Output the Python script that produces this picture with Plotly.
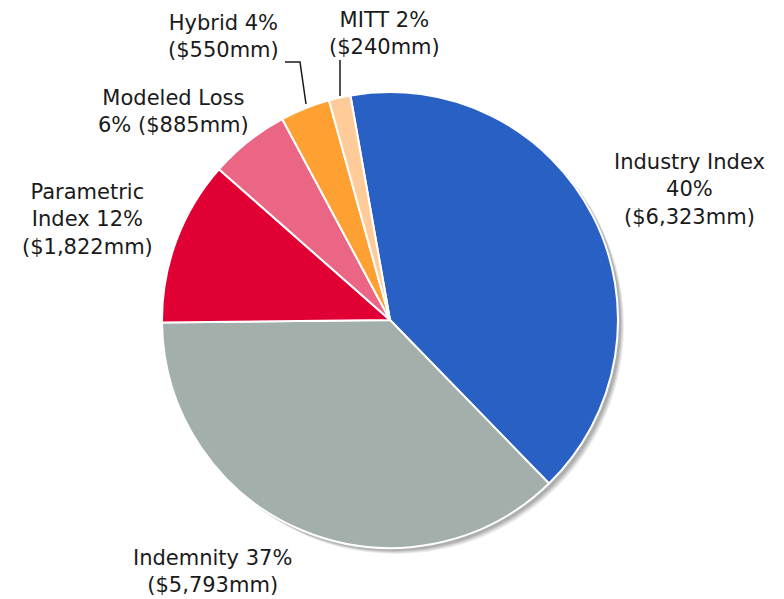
import plotly.graph_objects as go

# ---- data ----
categories = ["Industry Index", "Indemnity", "Parametric Index", "Modeled Loss", "Hybrid", "MITT"]
values_mm = [6323, 5793, 1822, 885, 550, 240]
pct_labels = ["40%", "37%", "12%", "6%", "4%", "2%"]
colors = ["#2960C4", "#A2AFAB", "#E00034", "#EB6684", "#FFA033", "#FFCC99"]

W, H = 784, 599
OFF = 8  # page body margin
cx, cy, R = 390, 320, 228  # pie centre / radius in screen pixels

def px(x):
    return (x - OFF) / W

def py(y):
    return 1 - (y - OFF) / H

fig = go.Figure()

fig.add_trace(go.Pie(
    labels=categories,
    values=values_mm,
    sort=False,
    direction="clockwise",
    rotation=-10,
    marker=dict(colors=colors, line=dict(color="white", width=2)),
    textinfo="none",
    hoverinfo="label+value+percent",
    showlegend=False,
    domain=dict(x=[px(cx - R), px(cx + R)], y=[py(cy + R), py(cy - R)]),
))

def money(v):
    return "(${:,}mm)".format(v)

label_text = {
    "Industry Index": f"{categories[0]}<br>{pct_labels[0]}<br>{money(values_mm[0])}",
    "Indemnity": f"{categories[1]} {pct_labels[1]}<br>{money(values_mm[1])}",
    "Parametric Index": f"Parametric<br>Index {pct_labels[2]}<br>{money(values_mm[2])}",
    "Modeled Loss": f"{categories[3]}<br>{pct_labels[3]} {money(values_mm[3])}",
    "Hybrid": f"{categories[4]} {pct_labels[4]}<br>{money(values_mm[4])}",
    "MITT": f"{categories[5]} {pct_labels[5]}<br>{money(values_mm[5])}",
}
label_pos = {
    "Industry Index": (689, 189),
    "Indemnity": (212, 571),
    "Parametric Index": (87, 220),
    "Modeled Loss": (173, 112),
    "Hybrid": (223, 36),
    "MITT": (384, 33),
}

annotations = []
for name in categories:
    x, y = label_pos[name]
    annotations.append(dict(
        x=px(x), y=py(y), xref="paper", yref="paper",
        text=label_text[name], showarrow=False,
        xanchor="center", yanchor="middle", align="center",
        font=dict(family="DejaVu Sans, Arial, sans-serif", size=21, color="#1a1a1a"),
    ))

shapes = []
# soft drop shadow behind pie
for off, op in [(6, 0.10), (5, 0.12), (4, 0.15), (3, 0.18)]:
    shapes.append(dict(
        type="circle", xref="paper", yref="paper", layer="below",
        x0=px(cx - R + off), x1=px(cx + R + off),
        y0=py(cy + R + off), y1=py(cy - R + off),
        fillcolor=f"rgba(80,80,80,{op})", line=dict(width=0),
    ))
# leader lines
shapes.append(dict(type="path", xref="paper", yref="paper",
                   path=f"M {px(285)} {py(62)} L {px(300)} {py(62)} L {px(306)} {py(104)}",
                   line=dict(color="#1a1a1a", width=1.5)))
shapes.append(dict(type="line", xref="paper", yref="paper",
                   x0=px(340), y0=py(60), x1=px(340), y1=py(96),
                   line=dict(color="#1a1a1a", width=1.5)))

fig.update_layout(
    width=W, height=H,
    margin=dict(l=0, r=0, t=0, b=0),
    paper_bgcolor="white", plot_bgcolor="white",
    annotations=annotations,
    shapes=shapes,
)

fig.write_html("out.html")
